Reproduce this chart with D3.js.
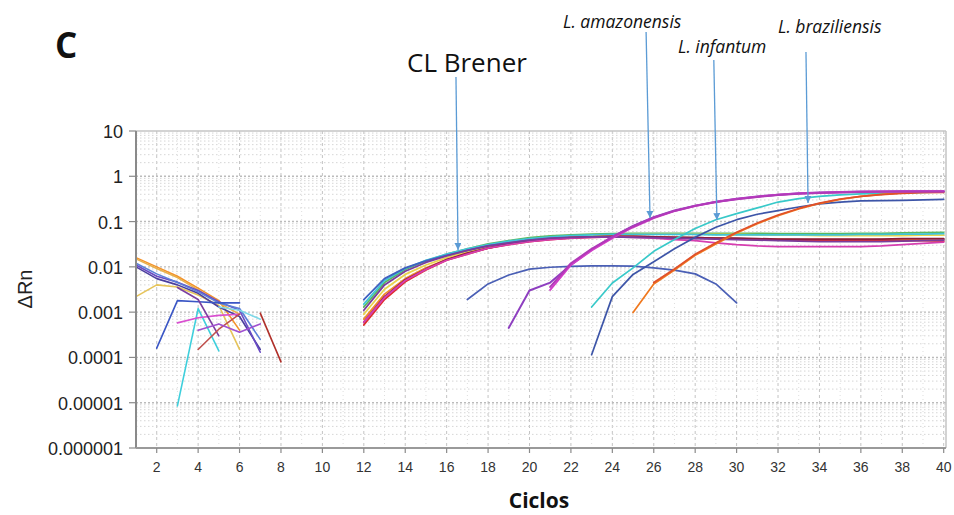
<!DOCTYPE html>
<html>
<head>
<meta charset="utf-8">
<script src="https://cdn.jsdelivr.net/npm/d3@7/dist/d3.min.js"></script>
<style>
  body { margin: 0; background: #fff; }
  svg text { font-family: "Liberation Sans", Arial, sans-serif; }
</style>
</head>
<body>
<div id="chart"></div>
<script>
// ---- data (cycle, delta Rn) ----

var xTickLabels = [2, 4, 6, 8, 10, 12, 14, 16, 18, 20, 22, 24, 26, 28, 30, 32, 34, 36, 38, 40];
var yTickValues = [10, 1, 0.1, 0.01, 0.001, 0.0001, 0.00001, 0.000001];
var yTickLabels = ["10", "1", "0.1", "0.01", "0.001", "0.0001", "0.00001", "0.000001"];

// noisy baseline traces, early cycles: [start cycle, values...]
var noiseStarts = [1, 1, 1, 1, 1, 1, 2, 3, 3, 3, 4, 4, 5, 7];
var noiseValues = [
  [0.016, 0.010, 0.0062, 0.0034, 0.0018, 0.0004],
  [0.015, 0.0092, 0.0058, 0.0031, 0.0016, 0.0009],
  [0.0022, 0.0040, 0.0036, 0.0024, 0.0014, 0.00015],
  [0.0100, 0.0055, 0.0040, 0.0026, 0.0013, 0.0008, 0.00015],
  [0.011, 0.0062, 0.0046, 0.0030, 0.0017, 0.0011, 0.00013],
  [0.012, 0.0070, 0.0045, 0.0028, 0.0016, 0.0012, 0.00025],
  [0.00016, 0.0018, 0.0017, 0.0016, 0.0016],
  [0.0000085, 0.0012, 0.00014],
  [0.00058, 0.00075, 0.00085, 0.0009],
  [0.0035, 0.0019, 0.0003],
  [0.00015, 0.00042, 0.0009],
  [0.0004, 0.00055, 0.00036, 0.00055],
  [0.0013, 0.0011, 0.0007],
  [0.00095, 0.00008]
];

// CL Brener wells, cycles 12..40
var brenerStart = 12;
var brenerValues = [
  [0.0013, 0.0045, 0.0088, 0.0135, 0.019, 0.025, 0.032, 0.038, 0.044, 0.048, 0.051, 0.053, 0.054, 0.055, 0.055, 0.055, 0.055, 0.055, 0.055, 0.055, 0.054, 0.054, 0.054, 0.054, 0.055, 0.055, 0.056, 0.057, 0.058],
  [0.0009, 0.0032, 0.0068, 0.011, 0.016, 0.022, 0.028, 0.034, 0.040, 0.044, 0.047, 0.049, 0.051, 0.052, 0.053, 0.053, 0.053, 0.052, 0.052, 0.051, 0.050, 0.050, 0.049, 0.049, 0.049, 0.049, 0.049, 0.050, 0.050],
  [0.0015, 0.0050, 0.0092, 0.014, 0.019, 0.025, 0.031, 0.037, 0.042, 0.046, 0.049, 0.051, 0.052, 0.052, 0.052, 0.052, 0.052, 0.051, 0.051, 0.051, 0.051, 0.051, 0.051, 0.051, 0.052, 0.052, 0.053, 0.053, 0.054],
  [0.0019, 0.0055, 0.0095, 0.0135, 0.018, 0.023, 0.029, 0.034, 0.039, 0.042, 0.045, 0.046, 0.047, 0.047, 0.046, 0.045, 0.044, 0.043, 0.042, 0.041, 0.040, 0.040, 0.039, 0.039, 0.039, 0.040, 0.040, 0.041, 0.041],
  [0.0007, 0.0025, 0.0055, 0.0095, 0.0145, 0.020, 0.026, 0.032, 0.037, 0.041, 0.044, 0.046, 0.047, 0.047, 0.046, 0.045, 0.044, 0.043, 0.042, 0.041, 0.041, 0.040, 0.040, 0.040, 0.040, 0.040, 0.040, 0.040, 0.040],
  [0.00052, 0.0019, 0.0047, 0.0085, 0.014, 0.019, 0.026, 0.031, 0.036, 0.040, 0.043, 0.045, 0.046, 0.046, 0.045, 0.044, 0.043, 0.042, 0.041, 0.040, 0.039, 0.039, 0.038, 0.038, 0.038, 0.038, 0.038, 0.038, 0.037],
  [0.0006, 0.0022, 0.0052, 0.0090, 0.0145, 0.020, 0.026, 0.032, 0.037, 0.041, 0.044, 0.046, 0.047, 0.047, 0.046, 0.045, 0.044, 0.043, 0.043, 0.042, 0.041, 0.041, 0.041, 0.041, 0.041, 0.041, 0.042, 0.042, 0.042],
  [0.0006, 0.0021, 0.0050, 0.0088, 0.014, 0.019, 0.026, 0.031, 0.036, 0.040, 0.043, 0.045, 0.046, 0.045, 0.043, 0.040, 0.038, 0.034, 0.031, 0.029, 0.028, 0.028, 0.028, 0.028, 0.028, 0.029, 0.031, 0.033, 0.035],
  [0.0011, 0.0040, 0.0080, 0.0125, 0.0175, 0.023, 0.029, 0.034, 0.039, 0.043, 0.045, 0.046, 0.046, 0.045, 0.044, 0.043, 0.042, 0.041, 0.040, 0.039, 0.038, 0.037, 0.036, 0.036, 0.036, 0.036, 0.037, 0.038, 0.039]
];

// well that rises and falls, cycles 17..30
var humpStart = 17;
var humpValues = [0.0019, 0.0042, 0.0066, 0.0089, 0.0098, 0.0103, 0.0105, 0.0105, 0.0104, 0.0095, 0.0085, 0.007, 0.0042, 0.0016];

// L. amazonensis
var amazStarts = [19, 21, 21];
var amazValues = [
  [0.00045, 0.0030, 0.0045, 0.011, 0.024, 0.046, 0.080, 0.125, 0.175, 0.225, 0.275, 0.32, 0.36, 0.39, 0.42, 0.44, 0.45, 0.46, 0.46, 0.47, 0.47, 0.47],
  [0.0031, 0.011, 0.023, 0.043, 0.075, 0.12, 0.17, 0.22, 0.27, 0.315, 0.355, 0.39, 0.415, 0.435, 0.445, 0.455, 0.46, 0.46, 0.465, 0.465],
  [0.0036, 0.012, 0.025, 0.046, 0.078, 0.123, 0.172, 0.222, 0.27, 0.31, 0.35, 0.385, 0.41, 0.43, 0.44, 0.45, 0.455, 0.46, 0.46, 0.46]
];

// L. infantum
var infStarts = [23, 23];
var infValues = [
  [0.0013, 0.0044, 0.0095, 0.022, 0.040, 0.070, 0.11, 0.15, 0.20, 0.27, 0.32, 0.36, 0.39, 0.41, 0.42, 0.43, 0.44, 0.45],
  [0.000115, 0.0022, 0.0068, 0.013, 0.025, 0.045, 0.075, 0.11, 0.145, 0.175, 0.21, 0.245, 0.27, 0.285, 0.29, 0.295, 0.30, 0.31]
];

// L. braziliensis
var brazStarts = [25, 26];
var brazValues = [
  [0.00098, 0.0042, 0.0085, 0.018, 0.032, 0.056, 0.09, 0.135, 0.19, 0.25, 0.31, 0.36, 0.40, 0.43, 0.45, 0.46],
  [0.0045, 0.009, 0.019, 0.034, 0.058, 0.093, 0.14, 0.195, 0.255, 0.315, 0.36, 0.395, 0.42, 0.435, 0.44]
];

// annotations: label, arrow start cycle, arrow tip cycle, tip value
var annLabels = ["CL Brener", "L. amazonensis", "L. infantum", "L. braziliensis"];
var annStartCycle = [16.45, 25.63, 28.9, 33.35];
var annTipCycle = [16.55, 25.82, 29.05, 33.45];
var annTipValue = [0.0236, 0.12, 0.108, 0.257];

// ---- drawing ----

var svgWidth = 954;
var svgHeight = 515;
var plot = { left: 136, right: 946, top: 131, bottom: 448 };

var svg = d3.select("#chart")
  .append("svg")
  .attr("width", svgWidth)
  .attr("height", svgHeight);

var x = d3.scaleLinear().domain([1, 40]).range([plot.left, 943.7]);
var y = d3.scaleLog().domain([1e-6, 10]).range([plot.bottom, plot.top]);

var grid = svg.append("g");

// vertical grid, every cycle
d3.range(2, 41).forEach(function (c) {
  grid.append("line")
    .attr("x1", x(c)).attr("x2", x(c))
    .attr("y1", plot.top).attr("y2", plot.bottom)
    .attr("stroke", c % 2 === 0 ? "#c4c4c4" : "#dedede")
    .attr("stroke-width", 1)
    .attr("stroke-dasharray", c % 2 === 0 ? "3,3" : "1,3");
});

// horizontal grid, decades and 2..9
for (var e = -6; e < 1; e++) {
  for (var m = 1; m <= 9; m++) {
    var v = m * Math.pow(10, e);
    grid.append("line")
      .attr("x1", plot.left).attr("x2", plot.right)
      .attr("y1", y(v)).attr("y2", y(v))
      .attr("stroke", m === 1 ? "#bbbbbb" : "#d6d6d6")
      .attr("stroke-width", m === 1 ? 1.4 : 1)
      .attr("stroke-dasharray", m === 1 ? "2,2" : "1.5,2.5");
  }
}

// frame
svg.append("line")
  .attr("x1", plot.left).attr("x2", plot.right)
  .attr("y1", plot.top).attr("y2", plot.top)
  .attr("stroke", "#c4c4c4").attr("stroke-width", 1.5);
svg.append("line")
  .attr("x1", plot.right).attr("x2", plot.right)
  .attr("y1", plot.top).attr("y2", plot.bottom)
  .attr("stroke", "#c4c4c4").attr("stroke-width", 1.5);

var line = d3.line()
  .x(function (d) { return x(d[0]); })
  .y(function (d) { return y(d[1]); });

function toPoints(start, values) {
  return values.map(function (v, i) { return [start + i, v]; });
}

function drawGroup(starts, values, colors, width) {
  values.forEach(function (vals, i) {
    svg.append("path")
      .attr("d", line(toPoints(starts[i], vals)))
      .attr("fill", "none")
      .attr("stroke", colors[i])
      .attr("stroke-width", width)
      .attr("stroke-linejoin", "round")
      .attr("stroke-linecap", "round");
  });
}

var noiseColors = ["#f4922a", "#e8b04a", "#e6c45a", "#4b3f9e", "#6a4bc4", "#5b7fd8", "#3a56c5",
  "#3ecfdc", "#d94fd0", "#7b3fa0", "#c0504d", "#a050d0", "#7fd8e8", "#b0302a"];
var brenerColors = ["#5cb85c", "#e8d44d", "#40c4d8", "#4060c0", "#f08a2c", "#e02a2a", "#8b1c3c", "#d63fb0", "#7a3c9c"];

drawGroup(noiseStarts, noiseValues, noiseColors, 1.6);
drawGroup(brenerValues.map(function () { return brenerStart; }), brenerValues, brenerColors, 1.8);
drawGroup([humpStart], [humpValues], ["#4a5fb5"], 1.7);
drawGroup(infStarts, infValues, ["#38c9c9", "#3d55a8"], 1.7);
drawGroup(brazStarts, brazValues, ["#f0781e", "#e0502a"], 1.7);
drawGroup(amazStarts, amazValues, ["#8e3fc0", "#d23cc8", "#b03ab8"], 2);

// axes lines
svg.append("line")
  .attr("x1", plot.left).attr("x2", plot.left)
  .attr("y1", plot.top).attr("y2", plot.bottom)
  .attr("stroke", "#8a8a8a").attr("stroke-width", 2);
svg.append("line")
  .attr("x1", plot.left).attr("x2", plot.right)
  .attr("y1", plot.bottom).attr("y2", plot.bottom)
  .attr("stroke", "#9a9a9a").attr("stroke-width", 2);

// y ticks + labels
yTickValues.forEach(function (v, i) {
  svg.append("line")
    .attr("x1", plot.left - 7).attr("x2", plot.left)
    .attr("y1", y(v)).attr("y2", y(v))
    .attr("stroke", "#8a8a8a").attr("stroke-width", 1.2);
  svg.append("text")
    .attr("x", 123)
    .attr("y", y(v) + 7)
    .attr("text-anchor", "end")
    .style("font-size", "18px")
    .style("fill", "#222")
    .text(yTickLabels[i]);
});

// x ticks + labels
xTickLabels.forEach(function (c) {
  svg.append("line")
    .attr("x1", x(c)).attr("x2", x(c))
    .attr("y1", plot.bottom).attr("y2", plot.bottom + 5)
    .attr("stroke", "#8a8a8a").attr("stroke-width", 1.2);
  svg.append("text")
    .attr("x", x(c))
    .attr("y", 472)
    .attr("text-anchor", "middle")
    .style("font-family", "'Liberation Sans Narrow', 'Liberation Sans', Arial, sans-serif")
    .style("font-size", "14px")
    .style("fill", "#333")
    .text(c);
});

// axis titles
svg.append("text")
  .attr("transform", "translate(32,289) rotate(-90)")
  .attr("text-anchor", "middle")
  .style("font-size", "20px")
  .style("fill", "#222")
  .text("\u0394Rn");

svg.append("text")
  .attr("x", 539)
  .attr("y", 508)
  .attr("text-anchor", "middle")
  .style("font-family", "'Open Sans', sans-serif")
  .style("font-weight", "bold")
  .style("font-size", "21px")
  .style("fill", "#111")
  .text("Ciclos");

// panel letter
svg.append("text")
  .attr("x", 55)
  .attr("y", 58)
  .style("font-family", "'Open Sans', sans-serif")
  .style("font-weight", "bold")
  .style("font-size", "35px")
  .style("fill", "#111")
  .text("C");

// annotations
var annStartY = [77, 32, 60, 52];
var annTextX = [407, 563, 678, 778];
var annTextY = [72, 28, 53, 33];
var annColor = "#5b9bd5";

svg.append("defs").append("marker")
  .attr("id", "arrow")
  .attr("viewBox", "0 0 10 10")
  .attr("refX", 10).attr("refY", 5)
  .attr("markerWidth", 7).attr("markerHeight", 7)
  .attr("markerUnits", "userSpaceOnUse")
  .attr("orient", "auto")
  .append("path")
  .attr("d", "M0,0 L10,5 L0,10 z")
  .attr("fill", annColor);

annLabels.forEach(function (label, i) {
  svg.append("line")
    .attr("x1", x(annStartCycle[i]))
    .attr("y1", annStartY[i])
    .attr("x2", x(annTipCycle[i]))
    .attr("y2", y(annTipValue[i]))
    .attr("stroke", annColor)
    .attr("stroke-width", 1.3)
    .attr("marker-end", "url(#arrow)");

  var t = svg.append("text")
    .attr("x", annTextX[i])
    .attr("y", annTextY[i])
    .style("font-family", "'Open Sans', sans-serif")
    .style("fill", "#111")
    .text(label);
  if (i === 0) {
    t.style("font-size", "26px");
  } else {
    t.style("font-size", "17.5px").style("font-style", "italic");
  }
});
</script>
</body>
</html>
